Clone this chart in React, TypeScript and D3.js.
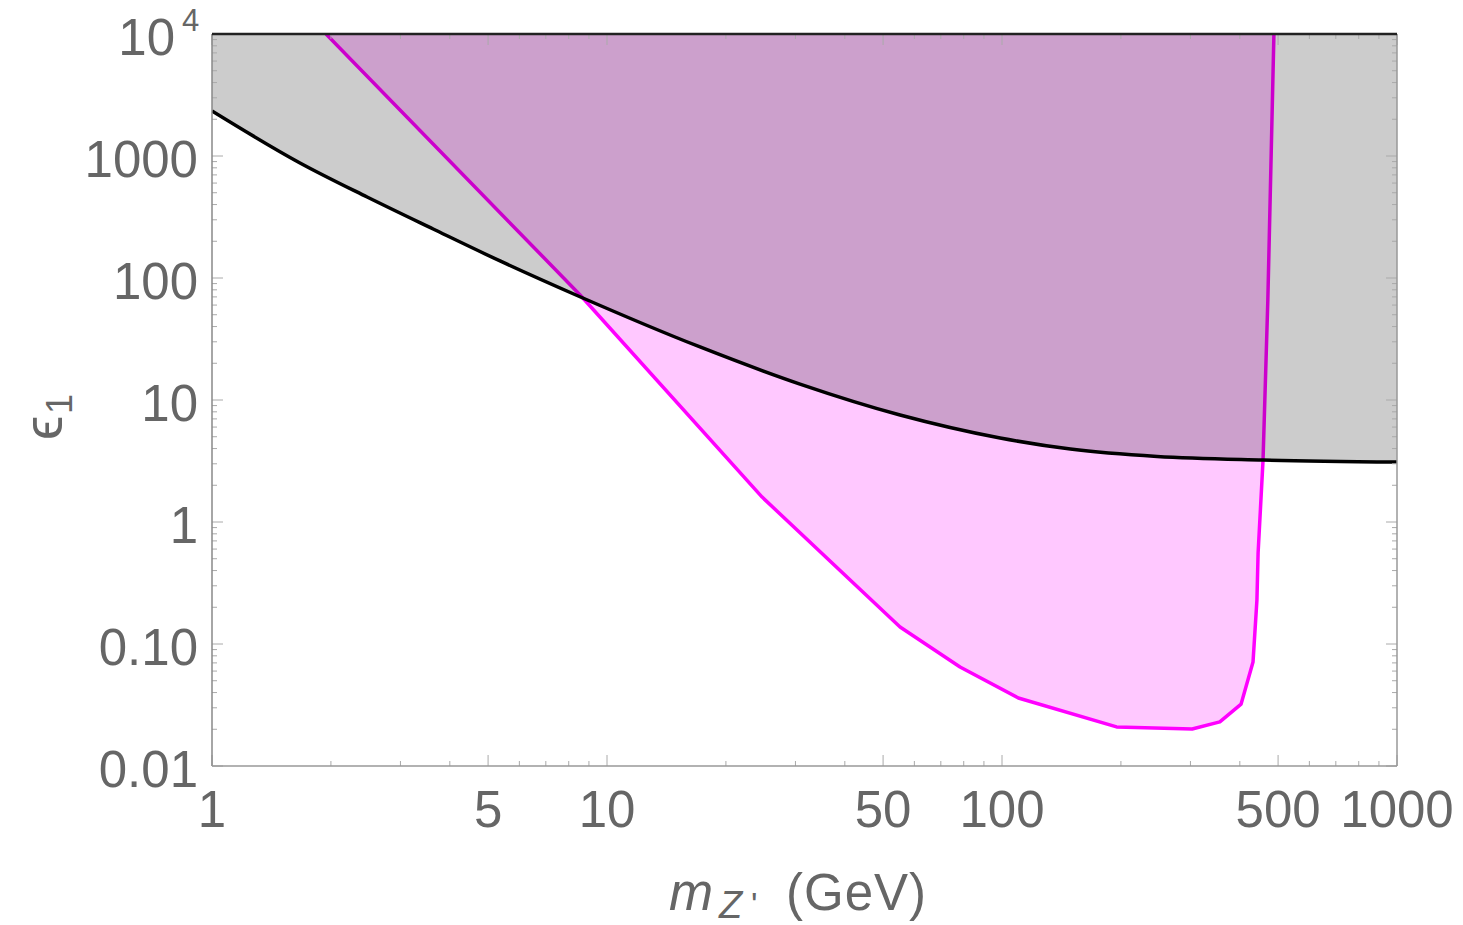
import * as d3 from 'd3';
import * as React from 'react';

// black bound: eps1 vs m_Z' (GeV)
const boundMass = [1, 1.67, 2.47, 3.63, 5.36, 8.4, 17.2, 30.8, 55.2, 98.9, 149, 247, 458, 1000];
const boundEps = [2340, 877, 461, 252, 138, 71.9, 27.2, 13.5, 7.53, 4.88, 3.96, 3.44, 3.22, 3.1];

// magenta excluded region outline
const regionMass = [1.944, 8.55, 24.7, 55.2, 78.3, 110, 195, 303, 356, 403, 432, 442, 445, 458, 471, 488];
const regionEps = [1e4, 72.6, 1.6, 0.138, 0.0648, 0.0361, 0.0209, 0.0201, 0.023, 0.0322, 0.0711, 0.23, 0.557, 3.22, 66, 1e4];

const xTickLabels = ['1', '5', '10', '50', '100', '500', '1000'];
const xTickValues = [1, 5, 10, 50, 100, 500, 1000];
const yTickLabels = ['0.01', '0.10', '1', '10', '100', '1000'];
const yTickValues = [0.01, 0.1, 1, 10, 100, 1000];

const W = 1463;
const H = 925;
const left = 212;
const right = 1397;
const top = 34;
const bottom = 766;

const font = '"Liberation Sans", Arial, sans-serif';
const textColor = '#666666';

const App = () => {
  const x = d3.scaleLog().domain([1, 1000]).range([left, right]);
  const y = d3.scaleLog().domain([0.01, 1e4]).range([bottom, top]);

  const boundPts: [number, number][] = boundMass.map((m, i) => [x(m), y(boundEps[i])]);
  const regionPts: [number, number][] = regionMass.map((m, i) => [x(m), y(regionEps[i])]);

  const boundLine = d3.line().curve(d3.curveMonotoneX)(boundPts);
  const boundArea = d3.area<[number, number]>()
    .curve(d3.curveMonotoneX)
    .x(d => d[0])
    .y0(y(1e4))
    .y1(d => d[1])(boundPts);
  const regionLine = d3.line()(regionPts);

  // minor / major tick positions
  const xMinor: number[] = [];
  for (let e = 0; e < 3; e++) for (let k = 2; k <= 9; k++) if (k !== 5) xMinor.push(k * 10 ** e);
  const yMinor: number[] = [];
  for (let e = -2; e < 4; e++) for (let k = 2; k <= 9; k++) yMinor.push(k * 10 ** e);
  const yMajor = [...yTickValues, 1e4];

  const tickColor = '#aaaaaa';
  const major = 11;
  const minor = 5;

  return (
    <svg width={W} height={H} style={{ position: 'absolute', left: 0, top: 0, background: '#fff' }}>
      <defs>
        <clipPath id="plot">
          <rect x={left} y={top} width={right - left} height={bottom - top} />
        </clipPath>
      </defs>
      <g clipPath="url(#plot)">
        <path d={regionLine + 'Z'} fill="#ffc8ff" stroke="none" />
        <path d={regionLine} fill="none" stroke="#ff00ff" strokeWidth={3.5} strokeLinejoin="round" />
        <path d={boundArea || ''} fill="rgba(0,0,0,0.2)" stroke="none" />
        <path d={boundLine || ''} fill="none" stroke="#000" strokeWidth={3.5} />
      </g>

      {/* ticks */}
      <g stroke={tickColor} strokeWidth={1}>
        {xMinor.map(v => (
          <g key={'xm' + v}>
            <line x1={x(v)} x2={x(v)} y1={bottom} y2={bottom - minor} />
            <line x1={x(v)} x2={x(v)} y1={top} y2={top + minor} />
          </g>
        ))}
        {xTickValues.map(v => (
          <g key={'xM' + v}>
            <line x1={x(v)} x2={x(v)} y1={bottom} y2={bottom - major} />
            <line x1={x(v)} x2={x(v)} y1={top} y2={top + major} />
          </g>
        ))}
        {yMinor.map(v => (
          <g key={'ym' + v}>
            <line x1={left} x2={left + minor} y1={y(v)} y2={y(v)} />
            <line x1={right} x2={right - minor} y1={y(v)} y2={y(v)} />
          </g>
        ))}
        {yMajor.map(v => (
          <g key={'yM' + v}>
            <line x1={left} x2={left + major} y1={y(v)} y2={y(v)} />
            <line x1={right} x2={right - major} y1={y(v)} y2={y(v)} />
          </g>
        ))}
      </g>

      {/* frame */}
      <line x1={left} x2={left} y1={top} y2={bottom} stroke="#888" strokeWidth={1.5} />
      <line x1={left} x2={right} y1={bottom} y2={bottom} stroke="#999" strokeWidth={1.5} />
      <line x1={right} x2={right} y1={top} y2={bottom} stroke="#999" strokeWidth={1.5} />
      <line x1={left} x2={right} y1={top} y2={top} stroke="#222" strokeWidth={2.5} />

      {/* tick labels */}
      <g fill={textColor} fontFamily={font} fontSize={51}>
        {xTickValues.map((v, i) => (
          <text key={'xl' + v} x={x(v)} y={bottom + 61} textAnchor="middle">{xTickLabels[i]}</text>
        ))}
        {yTickValues.map((v, i) => (
          <text key={'yl' + v} x={198} y={y(v) + 21} textAnchor="end">{yTickLabels[i]}</text>
        ))}
        <text x={175} y={y(1e4) + 21} textAnchor="end">10</text>
        <text x={182} y={y(1e4) - 3} fontSize={31}>4</text>
      </g>

      {/* axis labels */}
      <g fill={textColor} fontFamily={font}>
        <text x={669} y={910} fontSize={53} fontStyle="italic">m</text>
        <text x={719} y={918} fontSize={38} fontStyle="italic">Z</text>
        <text x={751} y={916} fontSize={34}>'</text>
        <text x={786} y={910} fontSize={51} letterSpacing={1}>(GeV)</text>
        <g transform="translate(62, 440) rotate(-90)">
          <text x={0} y={0} fontSize={55}>ϵ</text>
          <text x={26} y={10} fontSize={36}>1</text>
        </g>
      </g>
    </svg>
  );
};

export default App;
